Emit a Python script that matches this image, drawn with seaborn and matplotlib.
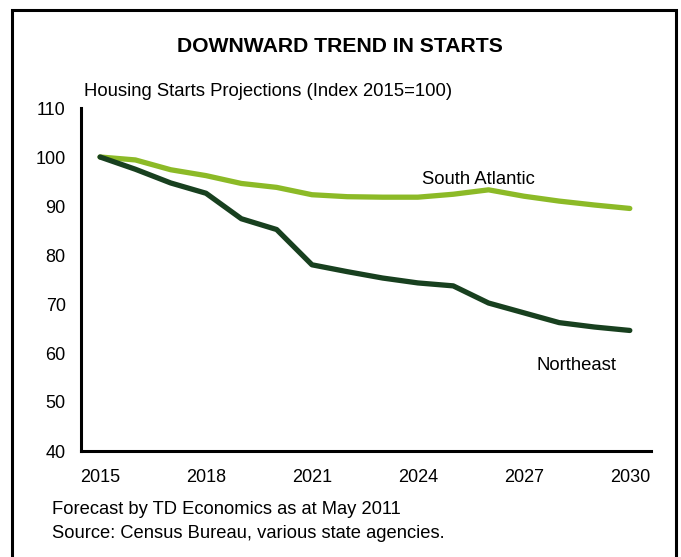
import matplotlib
matplotlib.use("Agg")
import matplotlib.pyplot as plt
import seaborn as sns
import pandas as pd
from matplotlib.patches import Rectangle

years = list(range(2015, 2031))
south_atlantic = [100, 99.4, 97.4, 96.2, 94.6, 93.8, 92.3, 91.9, 91.8, 91.8, 92.4, 93.3, 92.0, 91.0, 90.2, 89.5]
northeast = [100, 97.5, 94.7, 92.6, 87.4, 85.2, 78.0, 76.6, 75.3, 74.3, 73.7, 70.2, 68.2, 66.2, 65.3, 64.6]
x_ticks = [2015, 2018, 2021, 2024, 2027, 2030]
y_ticks = [40, 50, 60, 70, 80, 90, 100, 110]

df = pd.DataFrame({
    "year": years * 2,
    "value": south_atlantic + northeast,
    "region": ["South Atlantic"] * len(years) + ["Northeast"] * len(years),
})

sns.set_theme(style="white")
plt.rcParams["font.family"] = ["Liberation Sans", "DejaVu Sans"]
plt.rcParams["text.color"] = "black"

fig = plt.figure(figsize=(6.81, 5.57), dpi=100)
ax = fig.add_axes([81 / 681, 1 - 451 / 557, (651 - 81) / 681, (451 - 108) / 557])

sns.lineplot(data=df, x="year", y="value", hue="region",
             palette={"South Atlantic": "#8CBA27", "Northeast": "#18401F"},
             linewidth=3.8, ax=ax, legend=False)

ax.set_xlim(2014.46, 2030.6)
ax.set_ylim(40, 110)
ax.set_xticks(x_ticks)
ax.set_yticks(y_ticks)
ax.set_xlabel("")
ax.set_ylabel("")
ax.tick_params(axis="both", length=0, labelsize=13, colors="black")
ax.tick_params(axis="x", pad=13)
ax.tick_params(axis="y", pad=11)
for s in ["top", "right"]:
    ax.spines[s].set_visible(False)
for s in ["left", "bottom"]:
    ax.spines[s].set_color("black")
    ax.spines[s].set_linewidth(2.2)

ax.text(2025.72, 95.5, "South Atlantic", fontsize=13.3, ha="center", va="center", color="black")
ax.text(2028.5, 57.4, "Northeast", fontsize=13.3, ha="center", va="center", color="black")

fig.text(340 / 681, 1 - 46 / 557, "DOWNWARD TREND IN STARTS", fontsize=15.2,
         fontweight="bold", ha="center", va="center")
fig.text(84 / 681, 1 - 91 / 557, "Housing Starts Projections (Index 2015=100)",
         fontsize=13.3, ha="left", va="center")
fig.text(52 / 681, 1 - 510 / 557, "Forecast by TD Economics as at May 2011",
         fontsize=13.2, ha="left", va="center")
fig.text(52 / 681, 1 - 534 / 557, "Source: Census Bureau, various state agencies.",
         fontsize=13.2, ha="left", va="center")

fig.patches.append(Rectangle((12 / 681, -0.05), (676 - 12) / 681, (1 - 10 / 557) + 0.05,
                             transform=fig.transFigure, fill=False,
                             edgecolor="black", linewidth=2.2, figure=fig))

fig.savefig("out.png", dpi=100, facecolor="white")
